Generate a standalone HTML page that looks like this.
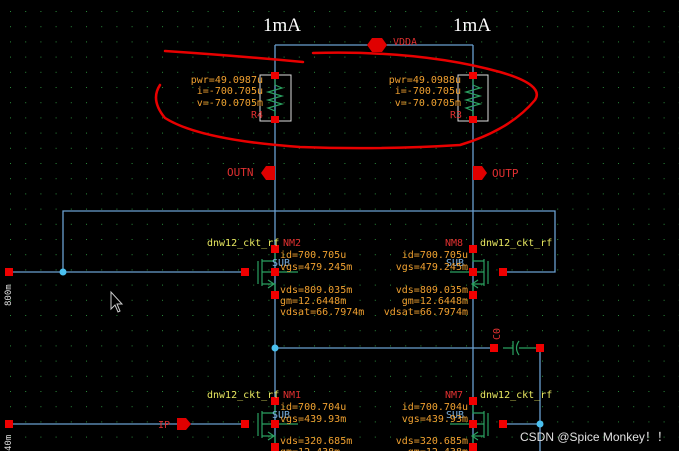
<!DOCTYPE html>
<html><head><meta charset="utf-8"><style>
html,body{margin:0;padding:0;background:#000;width:679px;height:451px;overflow:hidden}
svg{display:block}
text{font-family:"DejaVu Sans Mono","Liberation Mono",monospace;font-size:10px}
.o{fill:#f0a030}.y{fill:#e8e860}.r{fill:#e03030}.b{fill:#7ab0e0}
</style></head><body>
<svg width="679" height="451" viewBox="0 0 679 451" xmlns="http://www.w3.org/2000/svg">
<defs>
<pattern id="g" x="10" y="11" width="15.2" height="15.2" patternUnits="userSpaceOnUse">
<rect width="1" height="1" fill="#2a8a3a"/></pattern>
</defs>
<rect width="679" height="451" fill="#000"/>
<rect width="679" height="451" fill="url(#g)"/>
<g stroke="#6a9fd0" stroke-width="1.3" fill="none">
<path d="M275 45H473M275 45V451M473 45V451"/>
<path d="M63 272V211H555V272H503"/>
<path d="M9 272H245M9 424H245M503 424H540M540 348V451"/>
<path d="M275 348H493"/>
</g>
<circle cx="63" cy="272" r="3.5" fill="#4ac0f0"/>
<circle cx="275" cy="348" r="3.5" fill="#4ac0f0"/>
<circle cx="540" cy="424" r="3.5" fill="#4ac0f0"/>
<text x="263" y="31" style="font-family:'Liberation Serif',serif;font-size:19px" fill="#fff">1mA</text>
<text x="453" y="31" style="font-family:'Liberation Serif',serif;font-size:19px" fill="#fff">1mA</text>
<polygon points="367,45 372,38 382,38 387,45 382,52 372,52" fill="#e00000"/>
<text x="393" y="45" class="r">VDDA</text>
<g fill="none" stroke="#ddd" stroke-width="1"><rect x="260" y="75" width="31" height="46"/><rect x="458" y="75" width="30" height="46"/></g>
<g fill="none" stroke="#2aa060" stroke-width="1.2">
<path d="M275 79V85L282 88L268 92L282 96L268 100L282 104L268 108L275 111V117"/>
<path d="M473 79V85L480 88L466 92L480 96L466 100L480 104L466 108L473 111V117"/>
</g>
<g fill="#f00000"><rect x="271" y="72" width="8" height="7"/><rect x="271" y="116" width="8" height="7"/><rect x="469" y="72" width="8" height="7"/><rect x="469" y="116" width="8" height="7"/></g>
<g class="o" text-anchor="end">
<text x="263" y="83">pwr=49.0987u</text><text x="263" y="94">i=-700.705u</text><text x="263" y="106">v=-70.0705m</text>
<text x="461" y="83">pwr=49.0988u</text><text x="461" y="94">i=-700.705u</text><text x="461" y="106">v=-70.0705m</text>
</g>
<text x="251" y="118" class="r">R4</text><text x="450" y="118" class="r">R3</text>
<polygon points="261,173 266,166 275,166 275,180 266,180" fill="#e00000"/>
<text x="227" y="176" class="r" style="font-size:11px">OUTN</text>
<polygon points="473,166 482,166 487,173 482,180 473,180" fill="#e00000"/>
<text x="492" y="177" class="r" style="font-size:11px">OUTP</text>
<g fill="none" stroke="#2aa060" stroke-width="1.2">
<path d="M258 261V284M262 259V286M262 261H275V253M262 284H275V291M268 280L274 284L268 288M262 272H298"/>
<path d="M488 261V284M484 259V286M484 261H473V253M484 284H473V291M478 280L472 284L478 288M484 272H450"/>
<path d="M258 413V436M262 411V438M262 413H275V405M262 436H275V443M268 432L274 436L268 440M262 424H298"/>
<path d="M488 413V436M484 411V438M484 413H473V405M484 436H473V443M478 432L472 436L478 440M484 424H450"/>
<path d="M503 348H513M513 341V355M519 341Q514 348 519 355M519 348H540"/>
</g>
<g fill="#f00000">
<rect x="241" y="268" width="8" height="8"/><rect x="271" y="245" width="8" height="8"/><rect x="271" y="268" width="8" height="8"/><rect x="271" y="291" width="8" height="8"/>
<rect x="469" y="245" width="8" height="8"/><rect x="469" y="268" width="8" height="8"/><rect x="469" y="291" width="8" height="8"/><rect x="499" y="268" width="8" height="8"/>
<rect x="241" y="420" width="8" height="8"/><rect x="271" y="397" width="8" height="8"/><rect x="271" y="420" width="8" height="8"/><rect x="271" y="443" width="8" height="8"/>
<rect x="469" y="397" width="8" height="8"/><rect x="469" y="420" width="8" height="8"/><rect x="469" y="443" width="8" height="8"/><rect x="499" y="420" width="8" height="8"/>
<rect x="490" y="344" width="8" height="8"/><rect x="536" y="344" width="8" height="8"/>
<rect x="5" y="268" width="8" height="8"/><rect x="5" y="420" width="8" height="8"/>
</g>
<polygon points="177,418 186,418 191,424 186,430 177,430" fill="#e00000"/>
<text x="158" y="428" class="r">IP</text>
<text x="0" y="0" class="r" transform="translate(500,340) rotate(-90)">C0</text>
<g class="y"><text x="207" y="246">dnw12_ckt_rf</text><text x="480" y="246">dnw12_ckt_rf</text>
<text x="207" y="398">dnw12_ckt_rf</text><text x="480" y="398">dnw12_ckt_rf</text></g>
<g class="r"><text x="283" y="246">NM2</text><text x="445" y="246">NM8</text><text x="283" y="398">NM1</text><text x="445" y="398">NM7</text></g>
<g class="b"><text x="272" y="266">SUB</text><text x="446" y="266">SUB</text><text x="272" y="418">SUB</text><text x="446" y="418">SUB</text></g>
<g class="o">
<text x="280" y="258">id=700.705u</text><text x="280" y="270">vgs=479.245m</text><text x="280" y="293">vds=809.035m</text><text x="280" y="304">gm=12.6448m</text><text x="280" y="315">vdsat=66.7974m</text>
<text x="280" y="410">id=700.704u</text><text x="280" y="422">vgs=439.93m</text><text x="280" y="444">vds=320.685m</text><text x="280" y="455">gm=12.438m</text>
</g>
<g class="o" text-anchor="end">
<text x="468" y="258">id=700.705u</text><text x="468" y="270">vgs=479.245m</text><text x="468" y="293">vds=809.035m</text><text x="468" y="304">gm=12.6448m</text><text x="468" y="315">vdsat=66.7974m</text>
<text x="468" y="410">id=700.704u</text><text x="468" y="422">vgs=439.93m</text><text x="468" y="444">vds=320.685m</text><text x="468" y="455">gm=12.438m</text>
</g>
<text x="0" y="0" fill="#ddd" style="font-size:9px" transform="translate(11,306) rotate(-90)">800m</text>
<text x="0" y="0" fill="#ddd" style="font-size:9px" transform="translate(11,451) rotate(-90)">40m</text>
<path d="M111 292V309L115 305L118 312L120 311L117 304L122 304Z" fill="#000" stroke="#ccc" stroke-width="1"/>
<g fill="none" stroke="#e80000" stroke-width="2.5" stroke-linecap="round">
<path d="M165 51Q240 56 303 62"/>
<path d="M313 53Q420 50 500 72Q545 85 535 100Q510 130 460 145Q380 150 300 147Q200 140 165 118Q150 100 160 85"/>
</g>
<text x="520" y="441" fill="#e0e0e0" style="font-family:'Liberation Sans','Noto Sans CJK SC',sans-serif;font-size:12px">CSDN @Spice Monkey！！</text>
</svg>
</body></html>
